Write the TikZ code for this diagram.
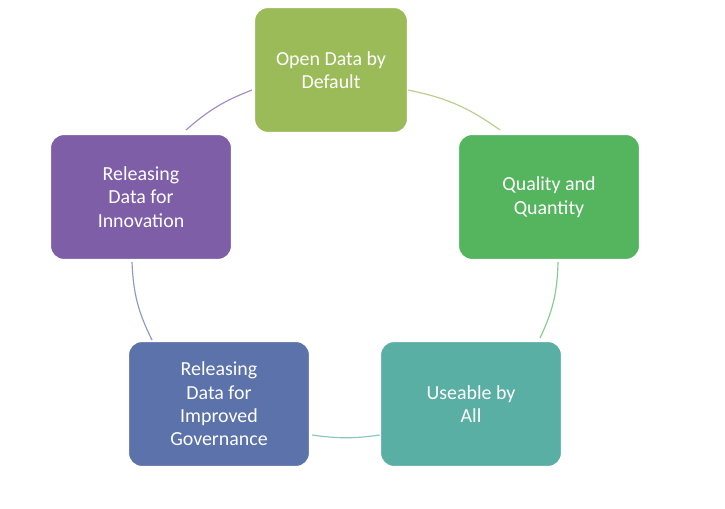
\documentclass[tikz,border=0pt]{standalone}
\usepackage{fontspec}
\setmainfont{Carlito}
\begin{document}
\begin{tikzpicture}[x=0.03cm,y=-0.03cm,
box/.style={rounded corners=0.4cm,draw=white,line width=1pt,minimum width=181*0.03cm,minimum height=125*0.03cm,text=white,align=center,font=\fontsize{17}{20}\selectfont},
arc/.style={line width=1pt}]
\useasboundingbox[fill=white] (0,0) rectangle (725,509);
\definecolor{c1}{HTML}{9BBB59}\definecolor{c2}{HTML}{55B55F}\definecolor{c3}{HTML}{5AAFA5}
\definecolor{c4}{HTML}{5B72AA}\definecolor{c5}{HTML}{7D5EA7}
\draw[arc,c1!70] (408,90) to[bend left=12] (500,130);
\draw[arc,c2!70] (558,262) to[bend left=12] (540,338);
\draw[arc,c3!70] (380,435) to[bend left=8] (312,435);
\draw[arc,c4!70] (152,340) to[bend left=12] (132,262);
\draw[arc,c5!70] (186,130) to[bend left=10] (252,90);
\node[box,fill=c1,minimum width=153*0.03cm] (a) at (331,70) {Open Data by\\Default};
\node[box,fill=c2] (b) at (549,197) {Quality and\\Quantity};
\node[box,fill=c3] (c) at (471,404) {Useable by\\All};
\node[box,fill=c4] (d) at (219,404) {Releasing\\Data for\\Improved\\Governance};
\node[box,fill=c5] (e) at (141,197) {Releasing\\Data for\\Innovation};
\end{tikzpicture}
\end{document}
